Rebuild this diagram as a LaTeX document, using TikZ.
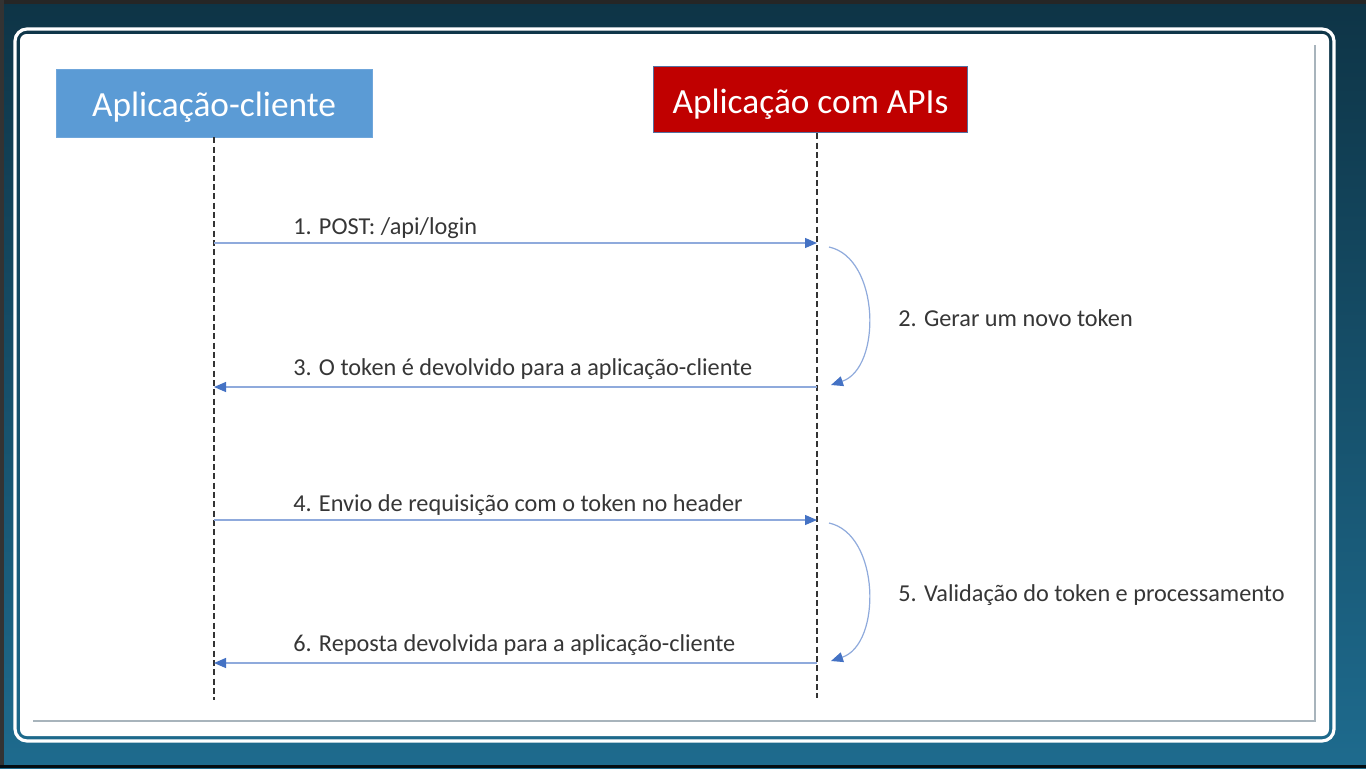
\documentclass[tikz,border=0pt]{standalone}
\usepackage{fontspec}
\setmainfont{Carlito}
\usetikzlibrary{arrows.meta}
\definecolor{bgtop}{HTML}{0E3446}
\definecolor{bgbot}{HTML}{1E6B8E}
\definecolor{clientblue}{HTML}{5B9BD5}
\definecolor{clientedge}{HTML}{6FA6DB}
\definecolor{apired}{HTML}{C00000}
\definecolor{apiedge}{HTML}{5470A0}
\definecolor{msgline}{HTML}{8FAADC}
\definecolor{msgtip}{HTML}{4472C4}
\definecolor{txt}{HTML}{363636}
\definecolor{lifecol}{HTML}{333333}
\definecolor{framegray}{HTML}{A8B4BC}
\begin{document}
\begin{tikzpicture}[x=0.75pt,y=-0.75pt,
  actor/.style={minimum width=237pt,minimum height=51pt,inner sep=0pt,text=white,
    text height=20.5pt,text depth=0pt,font=\fontsize{26.5}{32}\selectfont},
  lifeline/.style={lifecol,line width=1.4pt,dash pattern=on 4.5pt off 2.5pt},
  msg/.style={msgline,line width=0.9pt,-{Triangle[length=9pt,width=7.5pt,color=msgtip]}},
  selfmsg/.style={msgline,line width=0.9pt,-{Triangle[length=9pt,width=7.5pt,color=msgtip]}},
  lbl/.style={text=txt,inner sep=0pt,font=\fontsize{18.2}{22}\selectfont}]
\useasboundingbox (0,0) rectangle (1366,768);
% screen background
\shade[top color=bgtop,bottom color=bgbot] (0,0) rectangle (1366,768);
\fill[black!85] (0,0) rectangle (1366,4);
\fill[black!80] (0,0) rectangle (4,768);
\fill[black!75!bgtop] (0,765) rectangle (1366,768);
% slide frame
\draw[white,line width=2.4pt,rounded corners=9pt] (15,29) rectangle (1334,741);
\fill[white,rounded corners=5pt] (20,34) rectangle (1329,736);
\draw[framegray,line width=0.8pt] (33,721) -- (1315,721) -- (1315,45);
% actors
\node[actor,fill=clientblue,draw=clientedge,line width=0.6pt] (client) at (214,103) {Aplicação-cliente};
\node[actor,fill=apired,draw=apiedge,line width=0.8pt,minimum width=236pt,minimum height=50pt] (api) at (810.5,99.5) {Aplicação com APIs};
% lifelines
\coordinate (clientend) at (214,700);
\coordinate (apiend) at (817,698);
\draw[lifeline] (client.south) -- (clientend);
\draw[lifeline] (api.south -| apiend) -- (apiend);
% message points
\coordinate (m1a) at (214,243);
\coordinate (m1b) at (817,243);
\coordinate (m3a) at (817,387);
\coordinate (m3b) at (214,387);
\coordinate (m4a) at (214,520);
\coordinate (m4b) at (817,520);
\coordinate (m6a) at (817,663);
\coordinate (m6b) at (214,663);
\coordinate (s2a) at (829,247);
\coordinate (s2b) at (831,385);
\coordinate (s5a) at (829,523);
\coordinate (s5b) at (831,661);
% messages
\draw[msg] (m1a) -- (m1b);
\draw[msg] (m3a) -- (m3b);
\draw[msg] (m4a) -- (m4b);
\draw[msg] (m6a) -- (m6b);
\draw[selfmsg] (s2a) .. controls (880,258) and (882,368) .. (s2b);
\draw[selfmsg] (s5a) .. controls (880,534) and (882,644) .. (s5b);
% labels
\node[lbl,anchor=base west] (l1) at (293,234) {1. POST: /api/login};
\node[lbl,anchor=base west] (l2) at (898,326) {2. Gerar um novo token};
\node[lbl,anchor=base west] (l3) at (293,375) {3. O token é devolvido para a aplicação-cliente};
\node[lbl,anchor=base west] (l4) at (293,511) {4. Envio de requisição com o token no header};
\node[lbl,anchor=base west] (l5) at (898,601) {5. Validação do token e processamento};
\node[lbl,anchor=base west] (l6) at (293,651) {6. Reposta devolvida para a aplicação-cliente};
\end{tikzpicture}
\end{document}
